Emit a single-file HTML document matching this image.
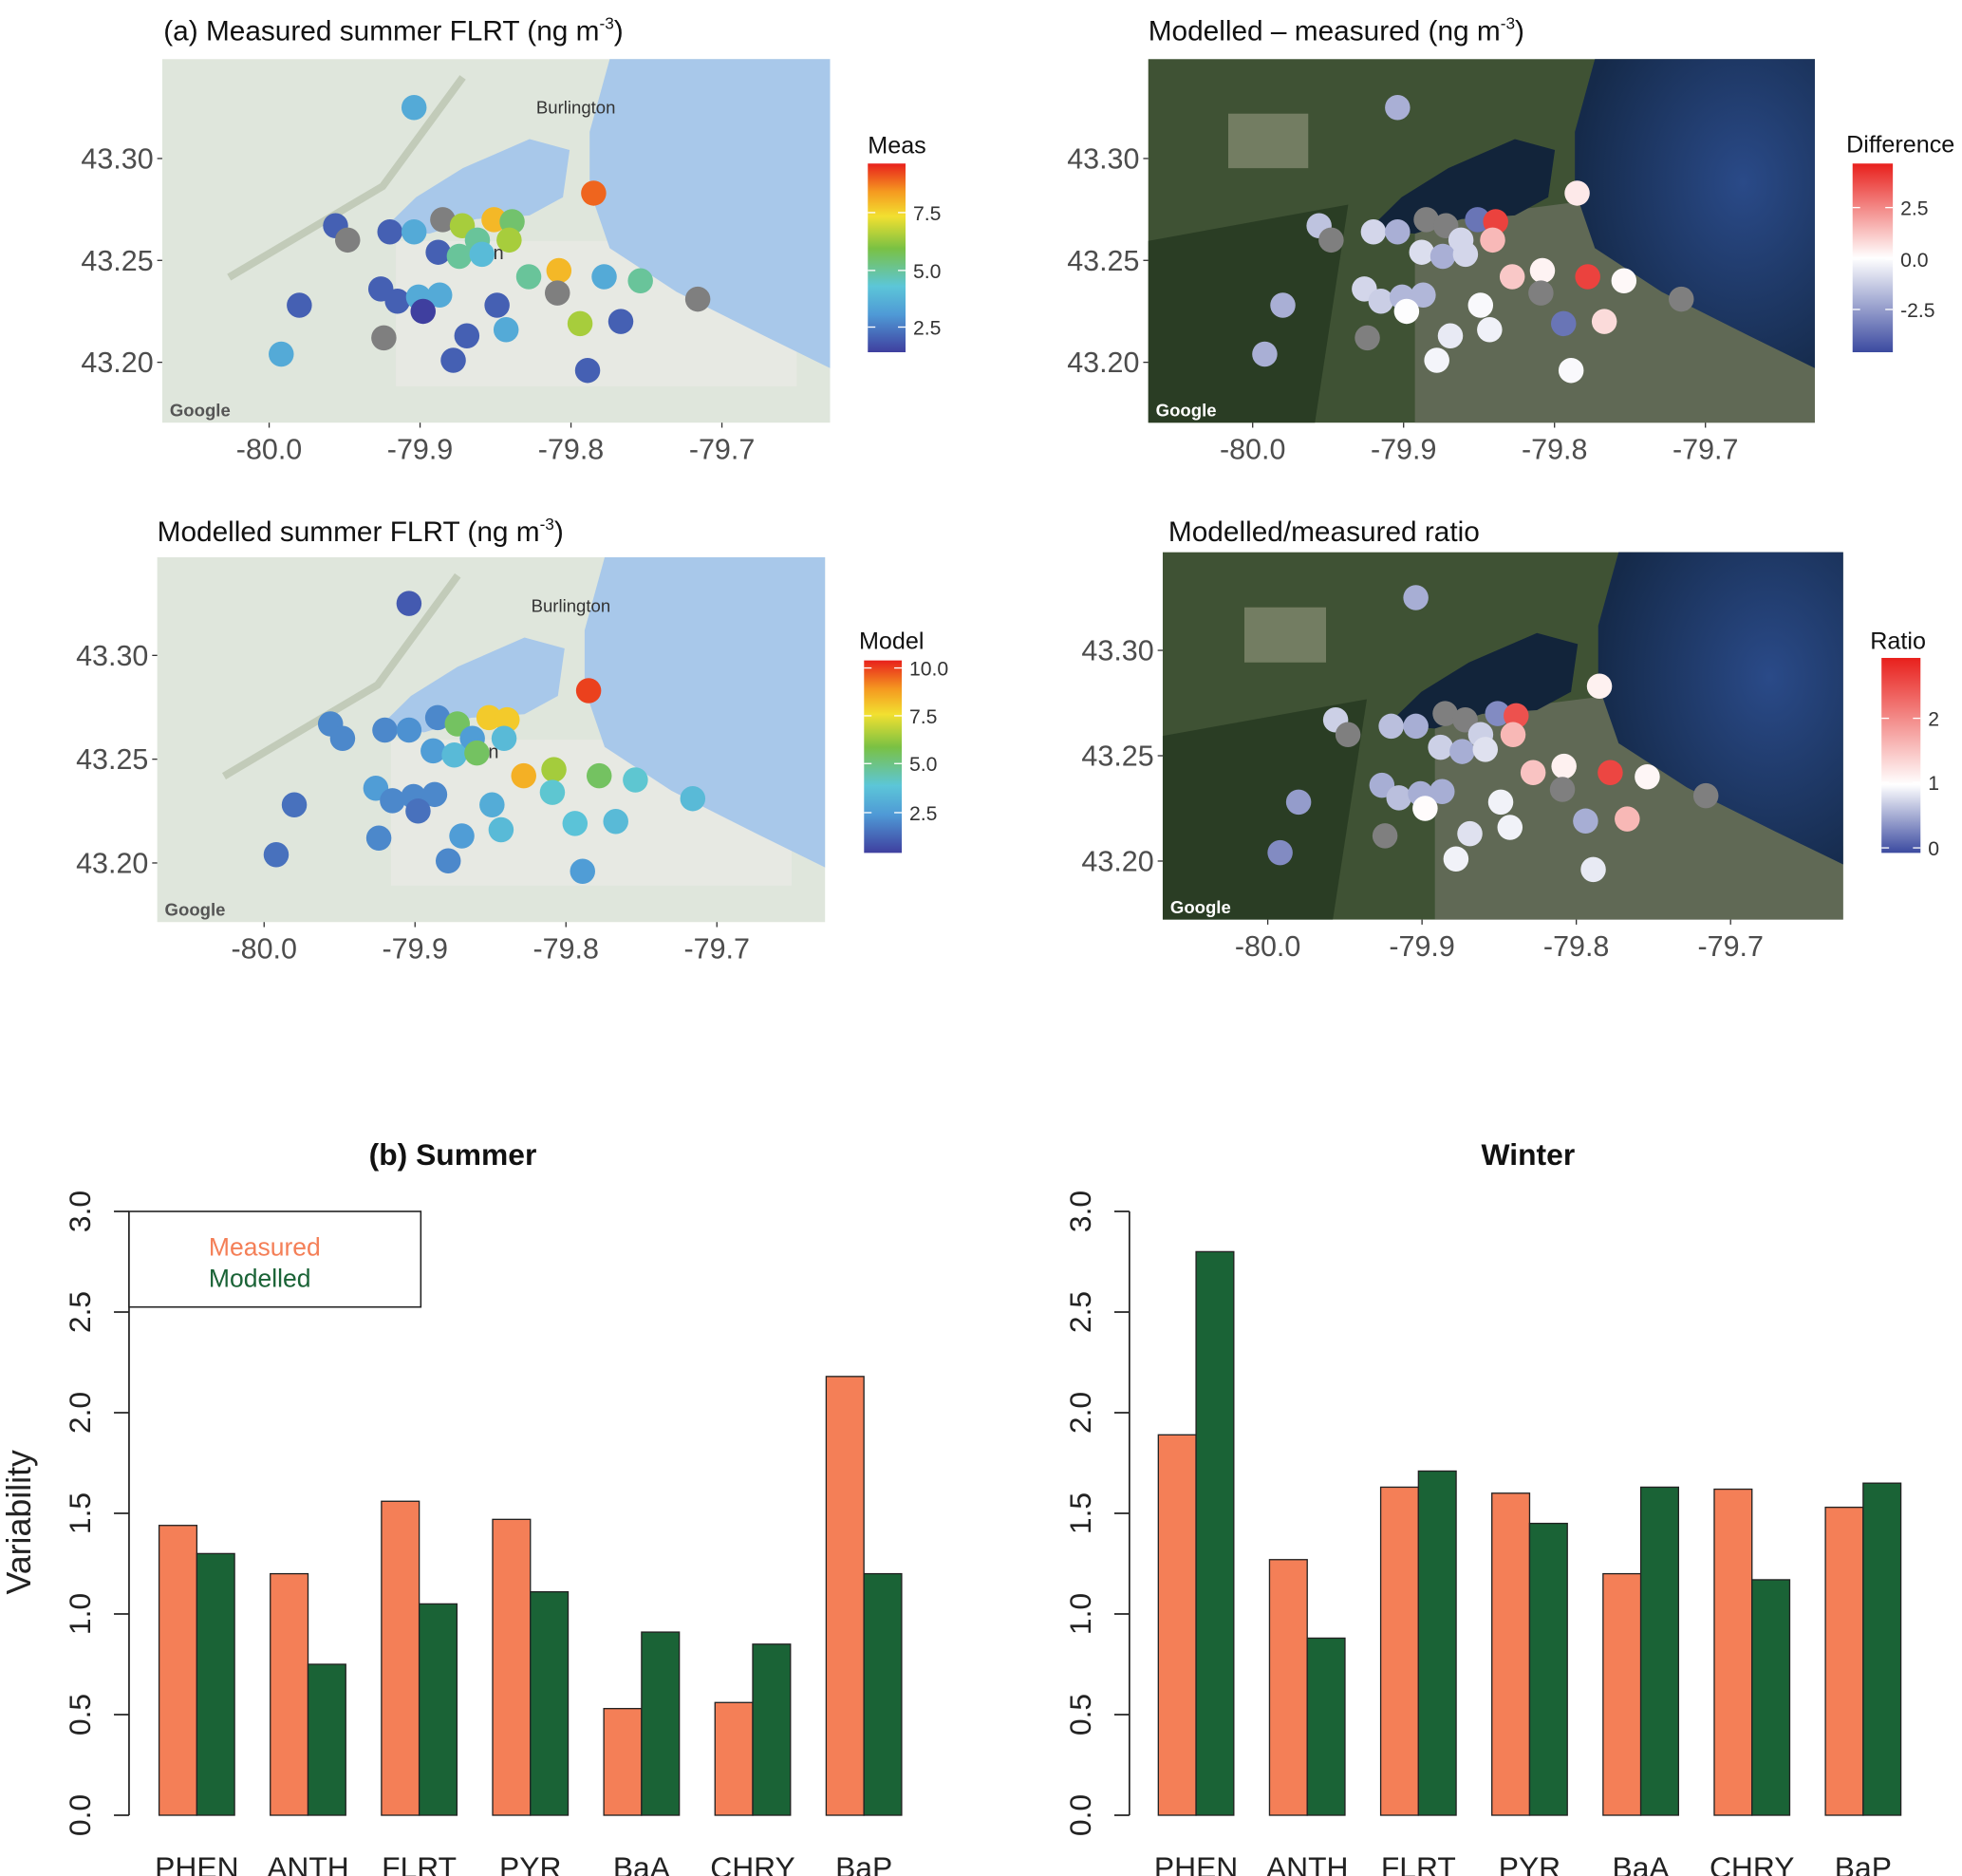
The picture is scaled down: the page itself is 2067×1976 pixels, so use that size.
<!DOCTYPE html>
<html><head><meta charset="utf-8"><style>
html,body{margin:0;padding:0;background:#fff;}
svg{display:block;font-family:"Liberation Sans",sans-serif;}
</style></head><body>
<svg id="fig" width="2067" height="1976" viewBox="0 0 1560 1491.3" preserveAspectRatio="none" xmlns="http://www.w3.org/2000/svg">
<defs>
<linearGradient id="gMeas" x1="0" y1="1" x2="0" y2="0"><stop offset="0" stop-color="#3f3f9f"/><stop offset="0.2" stop-color="#4f9ad6"/><stop offset="0.35" stop-color="#5cc6d8"/><stop offset="0.55" stop-color="#7ac143"/><stop offset="0.72" stop-color="#f2e030"/><stop offset="0.85" stop-color="#f59a20"/><stop offset="1" stop-color="#e8201c"/></linearGradient>
<linearGradient id="gDiv" x1="0" y1="1" x2="0" y2="0"><stop offset="0" stop-color="#3b4aa0"/><stop offset="0.5" stop-color="#ffffff"/><stop offset="1" stop-color="#e8201c"/></linearGradient>
<linearGradient id="gRatio" x1="0" y1="1" x2="0" y2="0"><stop offset="0" stop-color="#3b4aa0"/><stop offset="0.35" stop-color="#ffffff"/><stop offset="1" stop-color="#e8201c"/></linearGradient>
<radialGradient id="gLakeSat" cx="0.7" cy="0.4" r="0.7"><stop offset="0" stop-color="#2a4a88"/><stop offset="1" stop-color="#152a4a"/></radialGradient>
</defs>
<g id="maps"></g>
<g id="bars"></g>
</svg>
<script>
// ---------- map data ----------
const siteLon = [-79.904,-79.785,-79.956,-79.948,-79.920,-79.904,-79.885,-79.872,-79.851,-79.839,-79.841,-79.862,-79.888,-79.874,-79.859,-79.828,-79.808,-79.778,-79.754,-79.716,-79.809,-79.849,-79.926,-79.915,-79.901,-79.887,-79.898,-79.980,-79.924,-79.869,-79.843,-79.794,-79.767,-79.878,-79.789,-79.992];
const siteLat = [43.325,43.283,43.267,43.260,43.264,43.264,43.270,43.267,43.270,43.269,43.260,43.260,43.254,43.252,43.253,43.242,43.245,43.242,43.240,43.231,43.234,43.228,43.236,43.230,43.232,43.233,43.225,43.228,43.212,43.213,43.216,43.219,43.220,43.201,43.196,43.204];
const measVals = [3.5,9,2,null,2,3.5,null,6.5,8,5.5,6.5,5,2,5,4,5,8,3.5,5,null,null,2,2,2,3.5,3.5,1,2,null,2,3.5,6.5,2,2,2,3.5];
const modelVals = [1,10,2,2,2,2.2,2,5.5,8,8,3.5,2.5,2.5,3.5,5.5,8.5,6.5,5.5,4,3.5,4,3,2.5,2,2,2,1.5,1.5,2,2.5,3.5,3.8,3.5,2,2.5,1.5];
const diffVals = [-2,0.5,-1.5,null,-1,-2,null,null,-3.5,4,1.5,-1,-0.8,-2,-1,1.2,0.3,4,0.2,null,null,-0.1,-1,-1.2,-1.8,-1.8,0,-2,null,-0.5,-0.3,-3.5,0.8,-0.2,-0.1,-2];
const ratioVals = [0.5,1.1,0.7,null,0.6,0.5,null,null,0.3,2.5,1.6,0.7,0.7,0.5,0.8,1.5,1.1,2.6,1.05,null,null,0.9,0.5,0.6,0.5,0.5,1,0.4,null,0.8,0.9,0.5,1.6,0.9,0.85,0.3];
const lonTicks = [-80.0,-79.9,-79.8,-79.7];
const latTicks = [43.30,43.25,43.20];
// ---------- bar data ----------
const compounds = ["PHEN","ANTH","FLRT","PYR","BaA","CHRY","BaP"];
const summerMeasured = [1.44,1.20,1.56,1.47,0.53,0.56,2.18];
const summerModelled = [1.30,0.75,1.05,1.11,0.91,0.85,1.20];
const winterMeasured = [1.89,1.27,1.63,1.60,1.20,1.62,1.53];
const winterModelled = [2.80,0.88,1.71,1.45,1.63,1.17,1.65];
const yTicks = [0.0,0.5,1.0,1.5,2.0,2.5,3.0];

const NS="http://www.w3.org/2000/svg";
function mk(tag,attrs,parent){const e=document.createElementNS(NS,tag);for(const k in attrs)e.setAttribute(k,attrs[k]);parent.appendChild(e);return e;}
function lerpHex(a,b,t){const pa=[1,3,5].map(i=>parseInt(a.substr(i,2),16)),pb=[1,3,5].map(i=>parseInt(b.substr(i,2),16));return "rgb("+pa.map((v,i)=>Math.round(v+(pb[i]-v)*t)).join(",")+")";}
function scaleColor(stops,t){t=Math.max(0,Math.min(1,t));for(let i=1;i<stops.length;i++){if(t<=stops[i][0]){const s=stops[i-1],e=stops[i];return lerpHex(s[1],e[1],(t-s[0])/(e[0]-s[0]));}}return stops[stops.length-1][1];}
const rainbow=[[0,"#3f3f9f"],[0.2,"#4f9ad6"],[0.35,"#5cc6d8"],[0.55,"#7ac143"],[0.72,"#f2e030"],[0.85,"#f59a20"],[1,"#e8201c"]];
const divg=[[0,"#3b4aa0"],[0.5,"#ffffff"],[1,"#e8201c"]];
const ratioStops=[[0,"#3b4aa0"],[0.35,"#ffffff"],[1,"#e8201c"]];

const maps=document.getElementById('maps');
const panels=[
 {name:'measured-map',x:129,y:47,w:531,h:289,lon0:214,lon1:574,lat0:126,lat1:288,sat:false,title:'(a) Measured  summer FLRT (ng m',tx:130,ty:32,vals:measVals,stops:rainbow,vmin:1.4,vmax:9.7,
  leg:{title:'Meas',lx:690,ly:122,bx:690,by:130,bw:30,bh:150,grad:'gMeas',ticks:[["7.5",169],["5.0",215],["2.5",260]]}},
 {name:'difference-map',x:913,y:47,w:530,h:289,lon0:996,lon1:1356,lat0:126,lat1:288,sat:true,title:'Modelled \u2013 measured (ng m',tx:913,ty:32,vals:diffVals,stops:divg,vmin:-4.6,vmax:4.7,
  leg:{title:'Difference',lx:1468,ly:121,bx:1473,by:130,bw:32,bh:150,grad:'gDiv',ticks:[["2.5",165],["0.0",206],["-2.5",246]]}},
 {name:'modelled-map',x:125,y:443,w:531,h:290,lon0:210,lon1:570,lat0:521,lat1:686,sat:false,title:'Modelled  summer FLRT (ng m',tx:125,ty:430,vals:modelVals,stops:rainbow,vmin:0.4,vmax:10.4,
  leg:{title:'Model',lx:683,ly:516,bx:687,by:525,bw:30,bh:153,grad:'gMeas',ticks:[["10.0",531],["7.5",569],["5.0",607],["2.5",646]]}},
 {name:'ratio-map',x:924.5,y:439,w:541,h:292,lon0:1008,lon1:1376,lat0:517,lat1:684.5,sat:true,title:'Modelled/measured ratio',tx:929,ty:430,vals:ratioVals,stops:ratioStops,vmin:-0.08,vmax:2.93,
  leg:{title:'Ratio',lx:1487,ly:516,bx:1496,by:523,bw:31,bh:155,grad:'gRatio',ticks:[["2",571],["1",622],["0",674]]}}
];
panels.forEach(p=>{
 const g=mk('g',{},maps);
 
 
 const xOf=lon=>p.lon0+(lon-(-80))/0.3*(p.lon1-p.lon0);
 const yOf=lat=>p.lat0+(43.30-lat)/0.10*(p.lat1-p.lat0);
 const bg=mk('rect',{x:p.x,y:p.y,width:p.w,height:p.h,fill:p.sat?'#3f5234':'#dfe6dc'},g);
 
 if(p.sat){
  mk('path',{d:`M${p.x} ${p.y+p.h*0.5} L${p.x+p.w*0.3} ${p.y+p.h*0.4} L${p.x+p.w*0.25} ${p.y+p.h} L${p.x} ${p.y+p.h} Z`,fill:'#253820',opacity:0.8},g);
  mk('path',{d:`M${p.x+p.w*0.4} ${p.y+p.h*0.45} L${p.x+p.w*0.7} ${p.y+p.h*0.38} L${p.x+p.w} ${p.y+p.h*0.8} L${p.x+p.w} ${p.y+p.h} L${p.x+p.w*0.4} ${p.y+p.h} Z`,fill:'#76796c',opacity:0.6},g);
  mk('rect',{x:p.x+p.w*0.12,y:p.y+p.h*0.15,width:p.w*0.12,height:p.h*0.15,fill:'#a8a890',opacity:0.5},g);
 } else {
  mk('path',{d:`M${p.x+p.w*0.1} ${p.y+p.h*0.6} L${p.x+p.w*0.33} ${p.y+p.h*0.35} L${p.x+p.w*0.45} ${p.y+p.h*0.05}`,fill:'none',stroke:'#c2cbb9',['stroke-width']:6},g);
  mk('rect',{x:p.x+p.w*0.35,y:p.y+p.h*0.5,width:p.w*0.6,height:p.h*0.4,fill:'#e8eae5',opacity:0.8},g);
 }
 const lx=u=>p.x+u*p.w, ly=v=>p.y+v*p.h;
 const lakeCol=p.sat?'url(#gLakeSat)':'#a8c8ea';
 const lake=mk('path',{d:`M${lx(0.67)} ${ly(0)} L${lx(1)} ${ly(0)} L${lx(1)} ${ly(0.85)} L${lx(0.9)} ${ly(0.76)} L${lx(0.77)} ${ly(0.64)} L${lx(0.67)} ${ly(0.52)} L${lx(0.64)} ${ly(0.36)} L${lx(0.64)} ${ly(0.2)} Z`,fill:lakeCol},g);
 
 const bay=mk('path',{d:`M${lx(0.33)} ${ly(0.47)} L${lx(0.38)} ${ly(0.38)} L${lx(0.45)} ${ly(0.3)} L${lx(0.55)} ${ly(0.22)} L${lx(0.61)} ${ly(0.25)} L${lx(0.6)} ${ly(0.38)} L${lx(0.55)} ${ly(0.43)} L${lx(0.47)} ${ly(0.44)} L${lx(0.4)} ${ly(0.48)} Z`,fill:p.sat?'#12243a':'#a8c8ea'},g);
 
 if(!p.sat){
  const t1=mk('text',{x:lx(0.56),y:ly(0.15),'font-size':14,fill:'#333'},g);t1.textContent='Burlington';
  
  const t2=mk('text',{x:lx(0.4),y:ly(0.55),'font-size':15,fill:'#333'},g);t2.textContent='Hamilton';
  
 }
 const gt=mk('text',{x:p.x+6,y:p.y+p.h-5,'font-size':14,'font-weight':'bold',fill:p.sat?'#fff':'#555'},g);gt.textContent='Google';
 
 siteLon.forEach((lon,i)=>{
  const v=p.vals[i];
  const c=v===null?'#7f7f7f':scaleColor(p.stops,(v-p.vmin)/(p.vmax-p.vmin));
  const dot=mk('circle',{cx:xOf(lon),cy:yOf(siteLat[i]),r:10,fill:c},g);
  
  
 });
 lonTicks.forEach(t=>{
  const x=xOf(t);
  mk('line',{x1:x,y1:p.y+p.h,x2:x,y2:p.y+p.h+4,stroke:'#333'},g);
  const tl=mk('text',{x:x,y:p.y+p.h+29,'font-size':23,fill:'#4d4d4d','text-anchor':'middle'},g);tl.textContent=t.toFixed(1);
  
 });
 latTicks.forEach(t=>{
  const y=yOf(t);
  mk('line',{x1:p.x-4,y1:y,x2:p.x,y2:y,stroke:'#333'},g);
  const tl=mk('text',{x:p.x-7,y:y+8,'font-size':23,fill:'#4d4d4d','text-anchor':'end'},g);tl.textContent=t.toFixed(2);
  
 });
 const tt=mk('text',{x:p.tx,y:p.ty,'font-size':22.5,fill:'#111'},g);
 
 tt.textContent=p.title;
 if(p.title.endsWith('(ng m')){const ts=mk('tspan',{dy:-9,'font-size':13},tt);ts.textContent='-3';const ts2=mk('tspan',{dy:9},tt);ts2.textContent=')';}
 const L=p.leg;
 const lt=mk('text',{x:L.lx,y:L.ly,'font-size':19,fill:'#111'},g);lt.textContent=L.title;
 
 const cb=mk('rect',{x:L.bx,y:L.by,width:L.bw,height:L.bh,fill:`url(#${L.grad})`},g);
 
 L.ticks.forEach(t=>{
  mk('line',{x1:L.bx,y1:t[1],x2:L.bx+6,y2:t[1],stroke:'#fff'},g);
  mk('line',{x1:L.bx+L.bw-6,y1:t[1],x2:L.bx+L.bw,y2:t[1],stroke:'#fff'},g);
  const tl=mk('text',{x:L.bx+L.bw+6,y:t[1]+6,'font-size':16,fill:'#333'},g);tl.textContent=t[0];
  
 });
});

// ---------- bar charts ----------
const bars=document.getElementById('bars');
function barChart(name,axisX,firstX,meas,mod,title,titleX,withLegend){
 const g=mk('g',{},bars);
 
 
 const y0=1443,pxPerUnit=160,groupStep=88.4,bw=30;
 const yOf=v=>y0-v*pxPerUnit;
 const xOf=i=>firstX+i*groupStep;
 mk('line',{x1:axisX,y1:yOf(0),x2:axisX,y2:yOf(3),stroke:'#222','stroke-width':1.3},g);
 yTicks.forEach(t=>{
  mk('line',{x1:axisX-12,y1:yOf(t),x2:axisX,y2:yOf(t),stroke:'#222','stroke-width':1.3},g);
  const tl=mk('text',{x:0,y:0,'font-size':24,fill:'#222','text-anchor':'middle',transform:`translate(${axisX-31},${yOf(t)}) rotate(-90)`},g);
  tl.textContent=t.toFixed(1);
  
 });
 compounds.forEach((c,i)=>{
  const b1=mk('rect',{x:xOf(i),y:yOf(meas[i]),width:bw,height:meas[i]*pxPerUnit,fill:'#f47f57',stroke:'#222','stroke-width':1},g);
  
  const b2=mk('rect',{x:xOf(i)+bw,y:yOf(mod[i]),width:bw,height:mod[i]*pxPerUnit,fill:'#1a6336',stroke:'#222','stroke-width':1},g);
  
  const tl=mk('text',{x:xOf(i)+bw,y:1493,'font-size':24,fill:'#222','text-anchor':'middle'},g);tl.textContent=c;
  
 });
 const tt=mk('text',{x:titleX,y:926,'font-size':24,'font-weight':'bold',fill:'#111','text-anchor':'middle'},g);
 tt.textContent=title;
 
 if(withLegend){
  const lb=mk('rect',{x:axisX,y:963,width:232,height:76,fill:'#fff',stroke:'#222','stroke-width':1.2},g);
  
  const l1=mk('text',{x:166,y:998,'font-size':20,fill:'#f47f57'},g);l1.textContent='Measured';
  
  const l2=mk('text',{x:166,y:1023,'font-size':20,fill:'#1a6336'},g);l2.textContent='Modelled';
  
  const yl=mk('text',{x:0,y:0,'font-size':27,fill:'#222','text-anchor':'middle',transform:'translate(24,1210) rotate(-90)'},g);
  yl.textContent='Variability';
  
 }
}
barChart('summer-bar-chart',102.6,126.5,summerMeasured,summerModelled,'(b)  Summer',360,true);
barChart('winter-bar-chart',898,921,winterMeasured,winterModelled,'Winter',1215,false);
</script>
</body></html>
